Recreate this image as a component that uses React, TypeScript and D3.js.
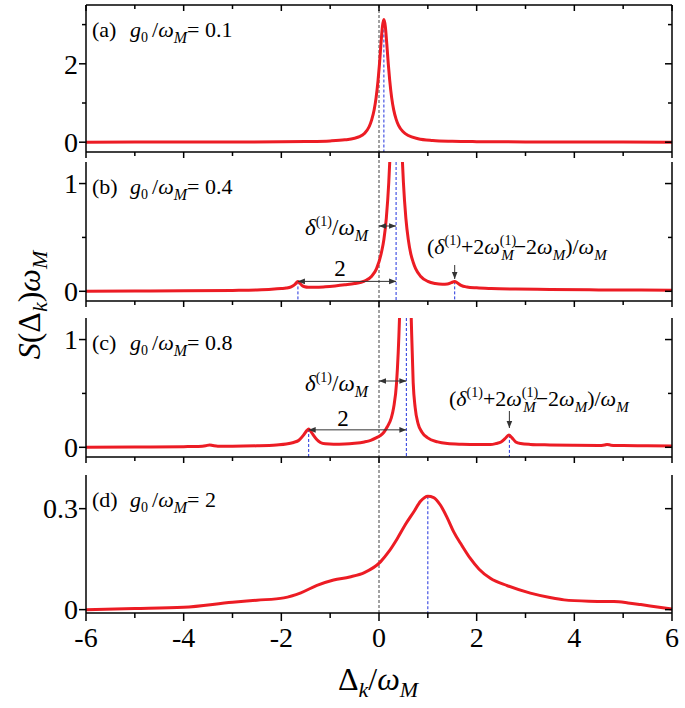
import React from 'react';
import * as d3 from 'd3';

// ---------- data ----------
const xTickValues = [-6, -4, -2, 0, 2, 4, 6];
const xTickLabels = ['-6', '-4', '-2', '0', '2', '4', '6'];
const xMinorValues = [-5, -3, -1, 1, 3, 5];

// (a) g0/wM = 0.1
const xA = [-6, -5, -4, -3, -2, -1.5, -1, -0.7, -0.5, -0.4, -0.3, -0.2, -0.15, -0.1, -0.06, -0.02, 0.01, 0.04, 0.07, 0.1, 0.13, 0.16, 0.19, 0.22, 0.26, 0.3, 0.35, 0.4, 0.5, 0.6, 0.8, 1.1, 1.5, 2, 3, 4, 5, 6];
const yA = [0.0, 0.002, 0.003, 0.005, 0.01, 0.017, 0.033, 0.06, 0.1, 0.14, 0.22, 0.4, 0.57, 0.82, 1.13, 1.57, 2.0, 2.5, 2.95, 3.13, 2.95, 2.5, 2.0, 1.57, 1.13, 0.83, 0.59, 0.43, 0.26, 0.17, 0.09, 0.045, 0.024, 0.014, 0.007, 0.004, 0.002, 0.0];

// (b) g0/wM = 0.4
const xB = [-6, -5, -4, -3, -2.5, -2.2, -2, -1.9, -1.8, -1.72, -1.66, -1.62, -1.58, -1.52, -1.45, -1.3, -1.1, -0.9, -0.7, -0.5, -0.3, -0.15, -0.05, 0.05, 0.1, 0.15, 0.2, 0.22, 0.25, 0.3, 0.35, 0.4, 0.45, 0.48, 0.5, 0.55, 0.6, 0.65, 0.7, 0.75, 0.85, 1.0, 1.15, 1.3, 1.4, 1.48, 1.55, 1.6, 1.68, 1.8, 2.0, 2.3, 2.8, 3.5, 4.5, 6];
const yB = [0.0, 0.002, 0.004, 0.008, 0.012, 0.018, 0.025, 0.03, 0.042, 0.065, 0.092, 0.075, 0.055, 0.042, 0.037, 0.037, 0.042, 0.05, 0.06, 0.072, 0.095, 0.14, 0.21, 0.36, 0.48, 0.68, 1.01, 1.2, 1.56, 2.31, 2.75, 2.31, 1.56, 1.2, 1.01, 0.68, 0.48, 0.35, 0.27, 0.21, 0.14, 0.092, 0.072, 0.065, 0.068, 0.08, 0.092, 0.08, 0.055, 0.04, 0.032, 0.026, 0.021, 0.017, 0.013, 0.01];

// (c) g0/wM = 0.8
const xC = [-6, -5, -4, -3.7, -3.55, -3.47, -3.4, -3.3, -3, -2.5, -2.1, -1.9, -1.75, -1.64, -1.55, -1.48, -1.44, -1.4, -1.34, -1.27, -1.2, -1.1, -0.93, -0.7, -0.5, -0.3, -0.17, -0.05, 0.03, 0.1, 0.17, 0.25, 0.3, 0.36, 0.42, 0.46, 0.5, 0.54, 0.58, 0.62, 0.66, 0.7, 0.74, 0.8, 0.88, 0.99, 1.2, 1.4, 1.7, 2.0, 2.28, 2.4, 2.5, 2.58, 2.66, 2.72, 2.8, 2.9, 3.1, 3.5, 4.0, 4.5, 4.62, 4.67, 4.75, 5.0, 5.5, 6];
const yC = [0.0, 0.003, 0.006, 0.008, 0.014, 0.022, 0.016, 0.01, 0.01, 0.014, 0.022, 0.03, 0.045, 0.065, 0.11, 0.155, 0.17, 0.15, 0.11, 0.07, 0.045, 0.032, 0.028, 0.03, 0.037, 0.05, 0.065, 0.09, 0.11, 0.14, 0.19, 0.27, 0.37, 0.6, 1.2, 1.9, 3.5, 5.0, 3.5, 1.9, 1.2, 0.6, 0.37, 0.22, 0.14, 0.09, 0.05, 0.035, 0.028, 0.025, 0.025, 0.035, 0.05, 0.08, 0.115, 0.09, 0.05, 0.035, 0.027, 0.022, 0.018, 0.017, 0.022, 0.026, 0.02, 0.016, 0.014, 0.013];

// (d) g0/wM = 2
const xD = [-6, -5, -4, -3, -2.5, -1.95, -1.6, -1.27, -0.93, -0.6, -0.3, 0.03, 0.2, 0.37, 0.55, 0.71, 0.85, 1.0, 1.12, 1.26, 1.4, 1.53, 1.7, 1.87, 2.05, 2.28, 2.63, 3.1, 3.5, 3.79, 4.3, 4.81, 5.1, 5.36, 5.7, 6];
const yD = [0.0, 0.003, 0.007, 0.022, 0.028, 0.035, 0.05, 0.072, 0.088, 0.097, 0.11, 0.142, 0.172, 0.21, 0.255, 0.29, 0.322, 0.337, 0.333, 0.31, 0.272, 0.231, 0.19, 0.152, 0.12, 0.093, 0.071, 0.049, 0.036, 0.029, 0.025, 0.024, 0.02, 0.015, 0.008, 0.002];

const panelLetters = ['a', 'b', 'c', 'd'];
const panelG0 = ['0.1', '0.4', '0.8', '2'];
const yDomains = [[-0.25, 3.5], [-0.09, 1.2], [-0.09, 1.2], [-0.01, 0.4]];
const yMajorTicks = [[0, 2], [0, 1], [0, 1], [0, 0.3]];
const yMajorLabels = [['0', '2'], ['0', '1'], ['0', '1'], ['0', '0.3']];
const yMinorTicks = [[1, 3], [0.5], [0.5], []];
// marked positions (blue dashed): [x, y]
const markX = [[0.1], [-1.66, 0.35, 1.55], [-1.44, 0.56, 2.67], [1.0]];
const markY = [[3.13], [0.092, 1.3, 0.092], [0.17, 1.3, 0.115], [0.337]];

// ---------- layout ----------
const SERIF = 'Liberation Serif';
const RED = '#ec1c24';
const X0 = 86, X1 = 672;
const panelTop = [5, 162, 318, 475];
const panelBottom = [152, 301, 457, 613];

const x = d3.scaleLinear().domain([-6, 6]).range([X0, X1]);

function Arrow({ x1, y1, x2, y2, start, end }: any) {
  return (
    <line x1={x1} y1={y1} x2={x2} y2={y2} stroke="#333" strokeWidth={1}
      markerStart={start ? 'url(#ahStart)' : undefined}
      markerEnd={end ? 'url(#ahEnd)' : undefined} />
  );
}

function Panel({ i }: { i: number }) {
  const top = panelTop[i], bottom = panelBottom[i];
  const y = d3.scaleLinear().domain(yDomains[i]).range([bottom, top]);
  const xs = [xA, xB, xC, xD][i];
  const ys = [yA, yB, yC, yD][i];
  const pts = xs.map((v, k) => [v, ys[k]] as [number, number]);
  const line = d3.line<[number, number]>().x(d => x(d[0])).y(d => y(d[1])).curve(d3.curveMonotoneX);
  const clipId = 'clip' + i;
  const isLast = i === 3;
  const majLen = 7, minLen = 4;
  return (
    <g>
      <defs>
        <clipPath id={clipId}>
          <rect x={X0} y={top} width={X1 - X0} height={bottom - top} />
        </clipPath>
      </defs>
      {markX[i].map((mx, k) => (
        <line key={'m' + k} x1={x(mx)} x2={x(mx)} y1={Math.max(top, y(markY[i][k]))} y2={bottom}
          stroke="#2233dd" strokeWidth={1} strokeDasharray="3,2" />
      ))}
      <path d={line(pts) as string} fill="none" stroke={RED} strokeWidth={3} clipPath={`url(#${clipId})`} strokeLinejoin="round" />
      <line x1={X0} x2={X0} y1={top} y2={bottom} stroke="#000" strokeWidth={1.5} />
      <line x1={X1} x2={X1} y1={top} y2={bottom} stroke="#000" strokeWidth={1.5} />
      <line x1={X0} x2={X1} y1={bottom} y2={bottom} stroke="#000" strokeWidth={1.5} />
      {i === 0 && <line x1={X0} x2={X1} y1={top} y2={top} stroke="#000" strokeWidth={1.5} />}
      {xTickValues.map(v => (
        <line key={'xt' + v} x1={x(v)} x2={x(v)} y1={bottom} y2={bottom + (isLast ? 8 : 6)} stroke="#000" strokeWidth={1.5} />
      ))}
      {xMinorValues.map(v => (
        <line key={'xm' + v} x1={x(v)} x2={x(v)} y1={bottom} y2={bottom + (isLast ? 5 : 4)} stroke="#000" strokeWidth={1.5} />
      ))}
      {i === 0 && xTickValues.map(v => (
        <line key={'xtt' + v} x1={x(v)} x2={x(v)} y1={top} y2={top + 6} stroke="#000" strokeWidth={1.5} />
      ))}
      {i === 0 && xMinorValues.map(v => (
        <line key={'xtm' + v} x1={x(v)} x2={x(v)} y1={top} y2={top + 4} stroke="#000" strokeWidth={1.5} />
      ))}
      {yMajorTicks[i].map((v, k) => (
        <g key={'yt' + k}>
          <line x1={X0 - majLen} x2={X0} y1={y(v)} y2={y(v)} stroke="#000" strokeWidth={1.5} />
          <line x1={X1 - majLen} x2={X1} y1={y(v)} y2={y(v)} stroke="#000" strokeWidth={1.5} />
          <text x={X0 - 8} y={y(v)} dy="0.35em" textAnchor="end" fontFamily={SERIF} fontSize={28}>{yMajorLabels[i][k]}</text>
        </g>
      ))}
      {yMinorTicks[i].map((v, k) => (
        <g key={'ym' + k}>
          <line x1={X0 - minLen} x2={X0} y1={y(v)} y2={y(v)} stroke="#000" strokeWidth={1.5} />
          <line x1={X1 - minLen} x2={X1} y1={y(v)} y2={y(v)} stroke="#000" strokeWidth={1.5} />
        </g>
      ))}
      <text x={92} y={top + 32} fontFamily={SERIF} fontSize={22}>
        ({panelLetters[i]})
        <tspan x={130} fontStyle="italic">g</tspan>
        <tspan fontSize={14} dy={5}>0</tspan>
        <tspan dy={-5} dx={4}>/</tspan>
        <tspan fontStyle="italic">ω</tspan>
        <tspan fontSize={16} fontStyle="italic" dy={6}>M</tspan>
        <tspan dy={-6}>= {panelG0[i]}</tspan>
      </text>
    </g>
  );
}

function DeltaLabel({ x0, y0 }: any) {
  return (
    <text x={x0} y={y0} fontFamily={SERIF} fontSize={23}>
      <tspan fontStyle="italic">δ</tspan>
      <tspan fontSize={14} dy={-9}>(1)</tspan>
      <tspan dy={9}>/</tspan>
      <tspan fontStyle="italic">ω</tspan>
      <tspan fontSize={16} fontStyle="italic" dy={6}>M</tspan>
    </text>
  );
}

function Formula({ x0, y0 }: any) {
  return (
    <text x={x0} y={y0} fontFamily={SERIF} fontSize={22}>
      (<tspan fontStyle="italic">δ</tspan>
      <tspan fontSize={14} dy={-9}>(1)</tspan>
      <tspan dy={9}>+2</tspan>
      <tspan fontStyle="italic">ω</tspan>
      <tspan fontSize={14} dy={-9}>(1)</tspan>
      <tspan fontSize={15} fontStyle="italic" dy={15} dx={-15}>M</tspan>
      <tspan dy={-6}>−2</tspan>
      <tspan fontStyle="italic">ω</tspan>
      <tspan fontSize={15} fontStyle="italic" dy={6}>M</tspan>
      <tspan dy={-6}>)/</tspan>
      <tspan fontStyle="italic">ω</tspan>
      <tspan fontSize={15} fontStyle="italic" dy={6}>M</tspan>
    </text>
  );
}

export default function App() {
  const yBs = d3.scaleLinear().domain(yDomains[1]).range([panelBottom[1], panelTop[1]]);
  const yCs = d3.scaleLinear().domain(yDomains[2]).range([panelBottom[2], panelTop[2]]);
  return (
    <svg width={685} height={708} fontFamily={SERIF} style={{ position: 'absolute', left: 0, top: 0, background: '#fff' }}>
      <defs>
        <marker id="ahEnd" viewBox="0 0 10 10" refX={10} refY={5} markerWidth={7} markerHeight={7} markerUnits="userSpaceOnUse" orient="auto">
          <path d="M0,1 L10,5 L0,9 z" fill="#333" />
        </marker>
        <marker id="ahStart" viewBox="0 0 10 10" refX={0} refY={5} markerWidth={7} markerHeight={7} markerUnits="userSpaceOnUse" orient="auto">
          <path d="M10,1 L0,5 L10,9 z" fill="#333" />
        </marker>
      </defs>
      <rect x={0} y={0} width={685} height={708} fill="#fff" />
      <line x1={x(0)} x2={x(0)} y1={panelTop[0]} y2={panelBottom[3]} stroke="#444" strokeWidth={1} strokeDasharray="3,2" />
      {[0, 1, 2, 3].map(i => <Panel key={i} i={i} />)}

      {/* annotations (b) */}
      <DeltaLabel x0={305} y0={235} />
      <Arrow x1={x(0)} y1={226} x2={x(0.35)} y2={226} start end />
      <text x={340} y={276} textAnchor="middle" fontFamily={SERIF} fontSize={23}>2</text>
      <Arrow x1={x(-1.66)} y1={yBs(0.092)} x2={x(0.35)} y2={yBs(0.092)} start end />
      <Formula x0={427} y0={254} />
      <Arrow x1={x(1.55)} y1={265} x2={x(1.55)} y2={279} end />

      {/* annotations (c) */}
      <DeltaLabel x0={305} y0={391} />
      <Arrow x1={x(0)} y1={381} x2={x(0.56)} y2={381} start end />
      <text x={343} y={426} textAnchor="middle" fontFamily={SERIF} fontSize={23}>2</text>
      <Arrow x1={x(-1.44)} y1={yCs(0.162)} x2={x(0.56)} y2={yCs(0.162)} start end />
      <Formula x0={449} y0={406} />
      <Arrow x1={x(2.67)} y1={411} x2={x(2.67)} y2={428} end />

      {xTickValues.map((v, k) => (
        <text key={'xl' + v} x={x(v)} y={647} textAnchor="middle" fontFamily={SERIF} fontSize={28}>{xTickLabels[k]}</text>
      ))}

      <text x={378} y={690} textAnchor="middle" fontFamily={SERIF} fontSize={32}>
        Δ<tspan fontSize={22} fontStyle="italic" dy={7}>k</tspan>
        <tspan dy={-7}>/</tspan>
        <tspan fontStyle="italic">ω</tspan>
        <tspan fontSize={22} fontStyle="italic" dy={7}>M</tspan>
      </text>
      <text transform="translate(40,305) rotate(-90)" textAnchor="middle" fontFamily={SERIF} fontSize={32}>
        <tspan fontStyle="italic">S</tspan>(Δ<tspan fontSize={22} fontStyle="italic" dy={7}>k</tspan>
        <tspan dy={-7}>)</tspan>
        <tspan fontStyle="italic">ω</tspan>
        <tspan fontSize={22} fontStyle="italic" dy={7}>M</tspan>
      </text>
    </svg>
  );
}
